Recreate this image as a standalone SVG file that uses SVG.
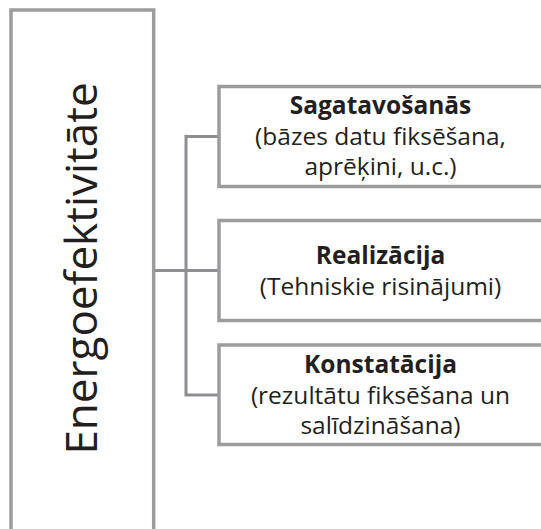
<svg xmlns="http://www.w3.org/2000/svg" width="541" height="529" viewBox="0 0 541 529">
<style>
.box{fill:#ffffff;stroke:#9c9c9f;stroke-width:3.5}
.conn{fill:none;stroke:#8e8e92;stroke-width:3}
.t{font-family:"Open Sans","Noto Sans","Liberation Sans",sans-serif;font-size:24.5px;fill:#231f20;text-anchor:middle}
.b{font-weight:bold}
.title{font-family:"Open Sans","Noto Sans","Liberation Sans",sans-serif;font-size:44px;fill:#231f20;text-anchor:middle}
</style>
<rect width="541" height="529" fill="#ffffff"/>
<g id="connectors">
<line class="conn" x1="154" y1="270.5" x2="219" y2="270.5"/>
<polyline class="conn" points="219,136.5 186,136.5 186,395 219,395"/>
</g>
<g id="energoefektivitate">
<rect class="box" x="11" y="10" width="142.7" height="540"/>
<text class="title" transform="translate(97,268.5) rotate(-90)">Energoefektivitāte</text>
</g>
<g id="sagatavosanas">
<rect class="box" x="219" y="86.5" width="326" height="100"/>
<text class="t b" x="380.5" y="114">Sagatavošanās</text>
<text class="t" x="380.5" y="145">(bāzes datu fiksēšana,</text>
<text class="t" x="380.5" y="175">aprēķini, u.c.)</text>
</g>
<g id="realizacija">
<rect class="box" x="219" y="220.5" width="326" height="100"/>
<text class="t b" x="380.5" y="263.5">Realizācija</text>
<text class="t" x="380.5" y="295">(Tehniskie risinājumi)</text>
</g>
<g id="konstatacija">
<rect class="box" x="219" y="345" width="326" height="99.5"/>
<text class="t b" x="380.5" y="373">Konstatācija</text>
<text class="t" x="380.5" y="404">(rezultātu fiksēšana un</text>
<text class="t" x="380.5" y="434">salīdzināšana)</text>
</g>
</svg>
